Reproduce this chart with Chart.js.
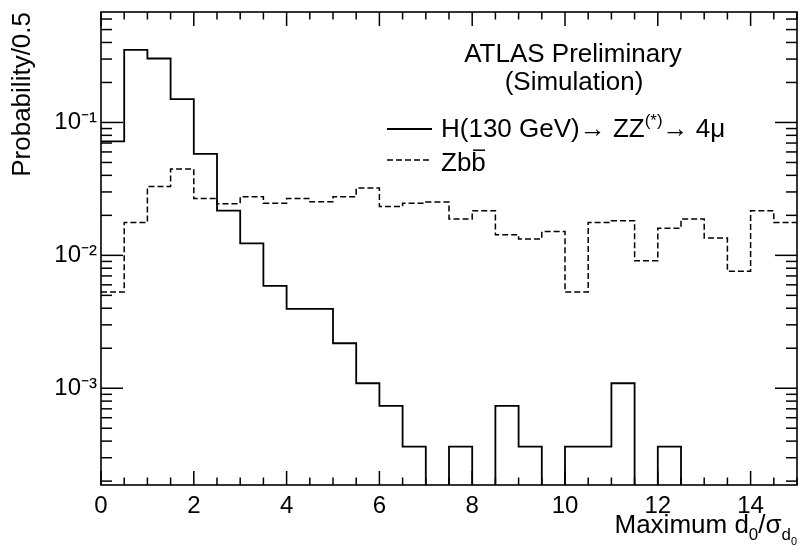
<!DOCTYPE html>
<html><head><meta charset="utf-8">
<script src="https://cdn.jsdelivr.net/npm/chart.js@4.4.0/dist/chart.umd.min.js"></script>
<style>html,body{margin:0;padding:0;background:#fff}canvas{display:block}</style>
</head><body>
<canvas id="c" width="798" height="547"></canvas>
<script>
// ---------------- data ----------------
const binLow = [0,0.5,1,1.5,2,2.5,3,3.5,4,4.5,5,5.5,6,6.5,7,7.5,8,8.5,9,9.5,10,10.5,11,11.5,12,12.5,13,13.5,14,14.5];
const xMax = 15;
const higgs = [0.072,0.352,0.303,0.150,0.058,0.0217,0.0123,0.0059,0.00395,0.00395,0.00218,0.00109,0.000736,0.000363,0,0.000363,0,0.000736,0.000363,0,0.000363,0.000363,0.00109,0,0.000363,0,0,0,0,0];
const zbb = [0.0053,0.0177,0.033,0.0446,0.0268,0.0245,0.0276,0.0247,0.0268,0.0253,0.0276,0.0321,0.0233,0.0247,0.0252,0.0188,0.0217,0.0143,0.0133,0.0151,0.0053,0.0177,0.0182,0.0091,0.0160,0.0188,0.0135,0.0076,0.0217,0.0177];
const seriesLabels = ['H(130 GeV)\u2192 ZZ^{(*)}\u2192 4\u03bc', 'Zb#bar{b}'];
const xTickLabels = ['0','2','4','6','8','10','12','14'];
const yDecadeLabels = {'-1':'10\u207b\u00b9','-2':'10\u207b\u00b2','-3':'10\u207b\u00b3'};
const headerLines = ['ATLAS Preliminary','(Simulation)'];
const xTitle = 'Maximum d_{0}/\u03c3_{d_{0}}';
const yTitle = 'Probability/0.5';
const Y_MIN = 1.87e-4, Y_MAX = 0.678;

// ---------------- helpers ----------------
const FONT = '"Liberation Sans", Arial, Helvetica, sans-serif';
function toSteps(vals){
  const floor = Y_MIN / 100;
  const pts = binLow.map((x,i)=>({x, y: vals[i] > 0 ? vals[i] : floor}));
  pts.push({x: xMax, y: vals[vals.length-1] > 0 ? vals[vals.length-1] : floor});
  return pts;
}
function matchBrace(s, open){ let d=0; for(let k=open;k<s.length;k++){ if(s[k]==='{')d++; else if(s[k]==='}'){ d--; if(d===0) return k; } } return s.length; }
function parseTex(s, size, dy, bar){
  const out=[]; let buf=''; let i=0;
  const flush=()=>{ if(buf){ out.push({t:buf,size,dy,bar}); buf=''; } };
  while(i<s.length){
    const c=s[i];
    if((c==='^'||c==='_') && s[i+1]==='{'){
      flush();
      const end=matchBrace(s,i+1);
      const ns=size*0.65;
      const ndy = c==='^' ? dy - size*0.42 : dy + size*0.28;
      out.push(...parseTex(s.slice(i+2,end), ns, ndy, bar));
      i=end+1;
    } else if(s.startsWith('#bar{',i)){
      flush();
      const end=matchBrace(s,i+4);
      out.push(...parseTex(s.slice(i+5,end), size, dy, true));
      i=end+1;
    } else { buf+=c; i++; }
  }
  flush();
  return out;
}
function drawRich(ctx, str, x, y, size, align){
  const segs = parseTex(str, size, 0, false);
  let total=0;
  segs.forEach(sg=>{ ctx.font = sg.size+'px '+FONT; sg.w = ctx.measureText(sg.t).width; total += sg.w; });
  let cx = align==='center' ? x - total/2 : align==='right' ? x - total : x;
  ctx.textAlign='left'; ctx.textBaseline='alphabetic'; ctx.fillStyle='#000';
  segs.forEach(sg=>{
    ctx.font = sg.size+'px '+FONT;
    ctx.fillText(sg.t, cx, y+sg.dy);
    if(sg.bar){
      const m = ctx.measureText(sg.t);
      ctx.save(); ctx.strokeStyle='#000'; ctx.lineWidth=1.5;
      ctx.beginPath(); ctx.moveTo(cx+sg.w*0.12, y+sg.dy-sg.size*0.8); ctx.lineTo(cx+sg.w*0.95, y+sg.dy-sg.size*0.8); ctx.stroke();
      ctx.restore();
    }
    cx += sg.w;
  });
}

const decorPlugin = {
  id: 'decor',
  afterDatasetsDraw(chart){
    const {ctx, chartArea: a, scales:{x, y}} = chart;
    ctx.save();
    ctx.strokeStyle = '#000'; ctx.lineWidth = 1.5;
    // inside ticks, x (bottom & top)
    for(let v=0; v<=xMax+1e-9; v+=0.5){
      const px = x.getPixelForValue(v);
      const len = (Math.abs(v % 2) < 1e-9) ? 14 : 7.5;
      ctx.beginPath(); ctx.moveTo(px, a.bottom); ctx.lineTo(px, a.bottom-len); ctx.stroke();
      ctx.beginPath(); ctx.moveTo(px, a.top); ctx.lineTo(px, a.top+len); ctx.stroke();
    }
    // inside ticks, y (left & right)
    for(let e=-5; e<=0; e++){
      for(let m=1; m<=9; m++){
        const v = m*Math.pow(10,e);
        if(v < Y_MIN || v > Y_MAX) continue;
        const py = y.getPixelForValue(v);
        const len = m===1 ? 22 : 11;
        ctx.beginPath(); ctx.moveTo(a.left, py); ctx.lineTo(a.left+len, py); ctx.stroke();
        ctx.beginPath(); ctx.moveTo(a.right, py); ctx.lineTo(a.right-len, py); ctx.stroke();
      }
    }
    // frame
    ctx.lineWidth = 1.6;
    ctx.strokeRect(a.left, a.top, a.right-a.left, a.bottom-a.top);
    ctx.restore();
  },
  afterDraw(chart){
    const ctx = chart.ctx;
    ctx.save();
    // header
    ctx.fillStyle='#000'; ctx.textAlign='center'; ctx.textBaseline='alphabetic';
    ctx.font = '26px '+FONT;
    ctx.fillText(headerLines[0], 573, 62);
    ctx.fillText(headerLines[1], 574, 90);
    // legend
    const ds = chart.data.datasets;
    const rows = [129, 160], txtBase = [137, 171];
    ds.forEach((d,i)=>{
      ctx.save();
      ctx.strokeStyle = d.borderColor; ctx.lineWidth = d.borderWidth;
      ctx.setLineDash(d.borderDash || []);
      ctx.beginPath(); ctx.moveTo(387, rows[i]); ctx.lineTo(432, rows[i]); ctx.stroke();
      ctx.restore();
      drawRich(ctx, d.label, 441, txtBase[i], 26, 'left');
    });
    // x-axis title
    drawRich(ctx, xTitle, 797, 533, 26, 'right');
    ctx.restore();
  }
};

new Chart(document.getElementById('c'), {
  type: 'line',
  data: {
    datasets: [
      { label: seriesLabels[0], data: toSteps(higgs), stepped: 'before', borderColor: '#000', borderWidth: 1.8, pointRadius: 0, fill: false, clip: 0 },
      { label: seriesLabels[1], data: toSteps(zbb), stepped: 'before', borderColor: '#000', borderWidth: 1.5, borderDash: [6,3], pointRadius: 0, fill: false, clip: 0 }
    ]
  },
  options: {
    responsive: false, animation: false, devicePixelRatio: 1,
    layout: { padding: { left: 0, right: 1, top: 12, bottom: 0 } },
    plugins: { legend: { display: false }, tooltip: { enabled: false } },
    scales: {
      x: {
        type: 'linear', min: 0, max: xMax,
        grid: { display: false, drawTicks: false },
        border: { display: false },
        ticks: {
          stepSize: 2, includeBounds: false, autoSkip: false, maxRotation: 0, padding: 7,
          color: '#000', font: { family: FONT, size: 24 },
          callback: (v) => { const i = xTickLabels.indexOf(String(v)); return i >= 0 ? xTickLabels[i] : ''; }
        },
        afterFit: (s) => { s.height = 62; s.paddingLeft = 0; s.paddingRight = 0; }
      },
      y: {
        type: 'logarithmic', min: Y_MIN, max: Y_MAX,
        grid: { display: false, drawTicks: false },
        border: { display: false },
        ticks: {
          autoSkip: false, padding: 4, color: '#000', font: { family: FONT, size: 24 },
          callback: (v) => { const l = Math.log10(v); const r = Math.round(l); return Math.abs(l-r) < 1e-6 && yDecadeLabels[String(r)] ? yDecadeLabels[String(r)] : ''; }
        },
        title: { display: true, text: yTitle, align: 'end', color: '#000', font: { family: FONT, size: 26 }, padding: { top: 7, bottom: 0 } },
        afterFit: (s) => { s.width = 101; s.paddingTop = 0; s.paddingBottom = 0; }
      }
    }
  },
  plugins: [decorPlugin]
});
</script>
</body></html>
